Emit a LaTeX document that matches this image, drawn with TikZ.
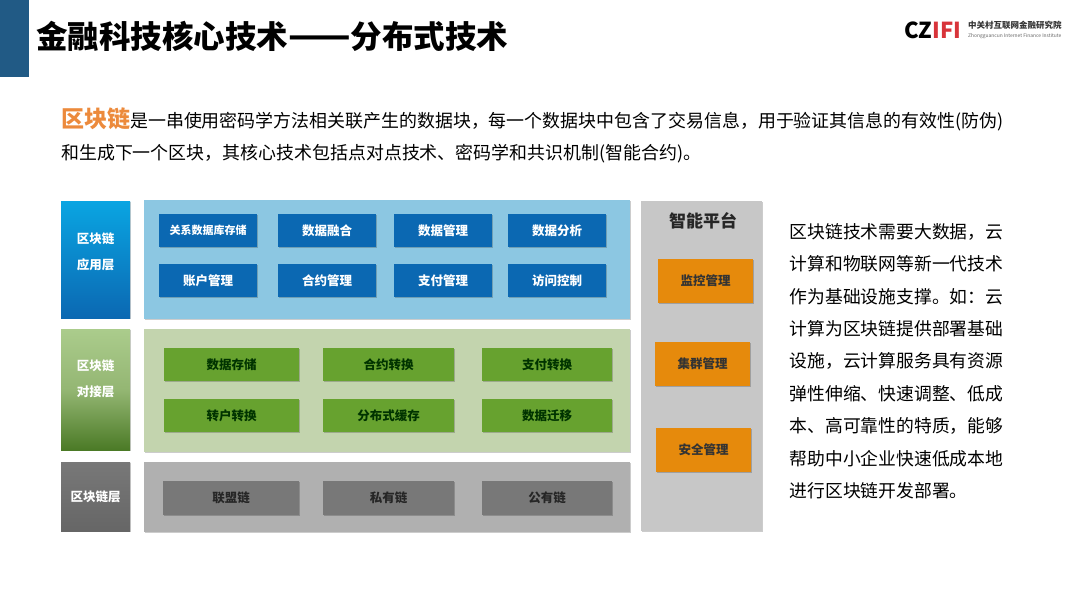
\documentclass[tikz,border=0pt]{standalone}
\usepackage{fontspec}
\setmainfont{Noto Sans CJK SC}
\usetikzlibrary{shadows}
\definecolor{barblue}{HTML}{215A85}
\definecolor{keyorange}{HTML}{EC8A3C}
\definecolor{skypanel}{HTML}{8CC7E2}
\definecolor{skybox}{HTML}{0B68B2}
\definecolor{skytop}{HTML}{0AA5E2}
\definecolor{sagepanel}{HTML}{C3D4AE}
\definecolor{leafbox}{HTML}{67A22F}
\definecolor{leaftop}{HTML}{ABCC8C}
\definecolor{leafmid}{HTML}{94B673}
\definecolor{leafend}{HTML}{4B7A26}
\definecolor{ashpanel}{HTML}{B0B0B0}
\definecolor{ashbox}{HTML}{787878}
\definecolor{sidepanel}{HTML}{C7C7C7}
\definecolor{amberbox}{HTML}{E68A0C}
\definecolor{logored}{HTML}{D8343A}
\pgfdeclareverticalshading{linkshade}{100bp}{color(0bp)=(leafend); color(25bp)=(leafend); color(50bp)=(leafmid); color(75bp)=(leaftop); color(100bp)=(leaftop)}
\tikzset{
  softshadow/.style={drop shadow={shadow xshift=.6pt,shadow yshift=-1pt,opacity=.2,fill=black}},
  block/.style={anchor=north west,inner sep=0pt,outer sep=0pt,softshadow,font=\fontsize{12.5}{15}\selectfont\bfseries},
  panel/.style={block,fill=#1},
  skycell/.style={block,fill=skybox,text=white,minimum width=98pt,minimum height=33pt},
  leafcell/.style={block,fill=leafbox,text=black!80!green,minimum height=33pt},
  ashcell/.style={block,fill=ashbox,text=black!85,minimum height=34pt},
  ambercell/.style={block,fill=amberbox,text=black!80,minimum width=95pt,minimum height=44pt},
  layerlabel/.style={block,text=white,minimum width=69pt,align=center,font=\fontsize{12.5}{26}\selectfont\bfseries},
  bodytext/.style={anchor=west,inner sep=0pt,font=\fontsize{17.94}{22}\selectfont},
}
\begin{document}
\begin{tikzpicture}[x=1pt,y=-1pt]
  \useasboundingbox (0,0) rectangle (1080,608);
  \node[anchor=north west,inner sep=0pt,fill=barblue,minimum width=28.5pt,minimum height=76.5pt] (bar) at (0,0) {};
  \node[anchor=west,inner sep=0pt,font=\fontsize{31.5}{36}\selectfont\bfseries] (title) at (36,36) {金融科技核心技术{\fontsize{36.5}{36}\selectfont ——}分布式技术};
  % logo
  \node[anchor=west,inner sep=0pt,font=\fontsize{22}{28}\selectfont\bfseries] (logoa) at (904,30) {CZ};
  \node[anchor=west,inner sep=0pt,text=logored,font=\fontsize{22}{28}\selectfont\bfseries] (logob) at (logoa.east) {IFI};
  \node[anchor=west,inner sep=0pt,text=black!80,font=\fontsize{8.5}{10}\selectfont\bfseries] (logoc) at (968,25.5) {中关村互联网金融研究院};
  \node[anchor=west,inner sep=0pt,text=black!60,font=\fontsize{4.9}{7}\selectfont] (logod) at (968,36.5) {Zhongguancun Internet Finance Institute};
  % intro
  \node[bodytext] (introa) at (61,119) {\textcolor{keyorange}{\fontsize{23}{26}\selectfont\bfseries 区块链}是一串使用密码学方法相关联产生的数据块，每一个数据块中包含了交易信息，用于验证其信息的有效性(防伪)};
  \node[bodytext] (introb) at (61,154) {和生成下一个区块，其核心技术包括点对点技术、密码学和共识机制(智能合约)。};
  % left labels
  \node[layerlabel,top color=skytop,bottom color=skybox,minimum height=117pt] (applabel) at (61,201) {区块链\\应用层\\[-9pt]};
  \node[layerlabel,shading=linkshade,minimum height=121pt] (linklabel) at (61,329) {区块链\\对接层\\[-3pt]};
  \node[layerlabel,top color=ashbox,bottom color=ashbox!85!black,minimum height=69pt] (chainlabel) at (61,462) {区块链层};
  % panels
  \node[panel=skypanel,minimum width=486pt,minimum height=119pt] (apppanel) at (144,200) {};
  \node[panel=sagepanel,minimum width=486pt,minimum height=123pt] (linkpanel) at (144,329) {};
  \node[panel=ashpanel,minimum width=486pt,minimum height=70pt] (chainpanel) at (144,462) {};
  \node[panel=sidepanel,minimum width=121pt,minimum height=330pt] (sidebar) at (641,201) {};
  \node[anchor=center,inner sep=0pt,text=black!85,font=\fontsize{17}{22}\selectfont\bfseries] (sidetitle) at (703,221) {智能平台};
  % application layer
  \node[skycell] (rdb) at (159,214) {\fontsize{11}{14}\selectfont 关系数据库存储};
  \node[skycell] (fusion) at (278,214) {数据融合};
  \node[skycell] (datamgr) at (394,214) {数据管理};
  \node[skycell] (analysis) at (508,214) {数据分析};
  \node[skycell] (account) at (159,264) {账户管理};
  \node[skycell] (contract) at (278,264) {合约管理};
  \node[skycell] (payment) at (394,264) {支付管理};
  \node[skycell] (access) at (508,264) {访问控制};
  % link layer
  \node[leafcell,minimum width=135pt] (store) at (164,348) {数据存储};
  \node[leafcell,minimum width=131pt] (contractconv) at (323,348) {合约转换};
  \node[leafcell,minimum width=130pt] (payconv) at (482,348) {支付转换};
  \node[leafcell,minimum width=135pt] (acctconv) at (164,399) {转户转换};
  \node[leafcell,minimum width=131pt] (cache) at (323,399) {分布式缓存};
  \node[leafcell,minimum width=130pt] (migrate) at (482,399) {数据迁移};
  % chain layer
  \node[ashcell,minimum width=136pt] (alliance) at (163,481) {联盟链};
  \node[ashcell,minimum width=131pt] (private) at (323,481) {私有链};
  \node[ashcell,minimum width=130pt] (public) at (482,481) {公有链};
  % platform
  \node[ambercell] (monitor) at (658,259) {监控管理};
  \node[ambercell] (cluster) at (655,342) {集群管理};
  \node[ambercell] (security) at (656,428) {安全管理};
  % side note
  \node[anchor=north west,inner sep=0pt,align=left,font=\fontsize{17.8}{32.4}\selectfont] (note) at (789.5,223) {区块链技术需要大数据，云\\计算和物联网等新一代技术\\作为基础设施支撑。如：云\\计算为区块链提供部署基础\\设施，云计算服务具有资源\\弹性伸缩、快速调整、低成\\本、高可靠性的特质，能够\\帮助中小企业快速低成本地\\进行区块链开发部署。};
\end{tikzpicture}
\end{document}
